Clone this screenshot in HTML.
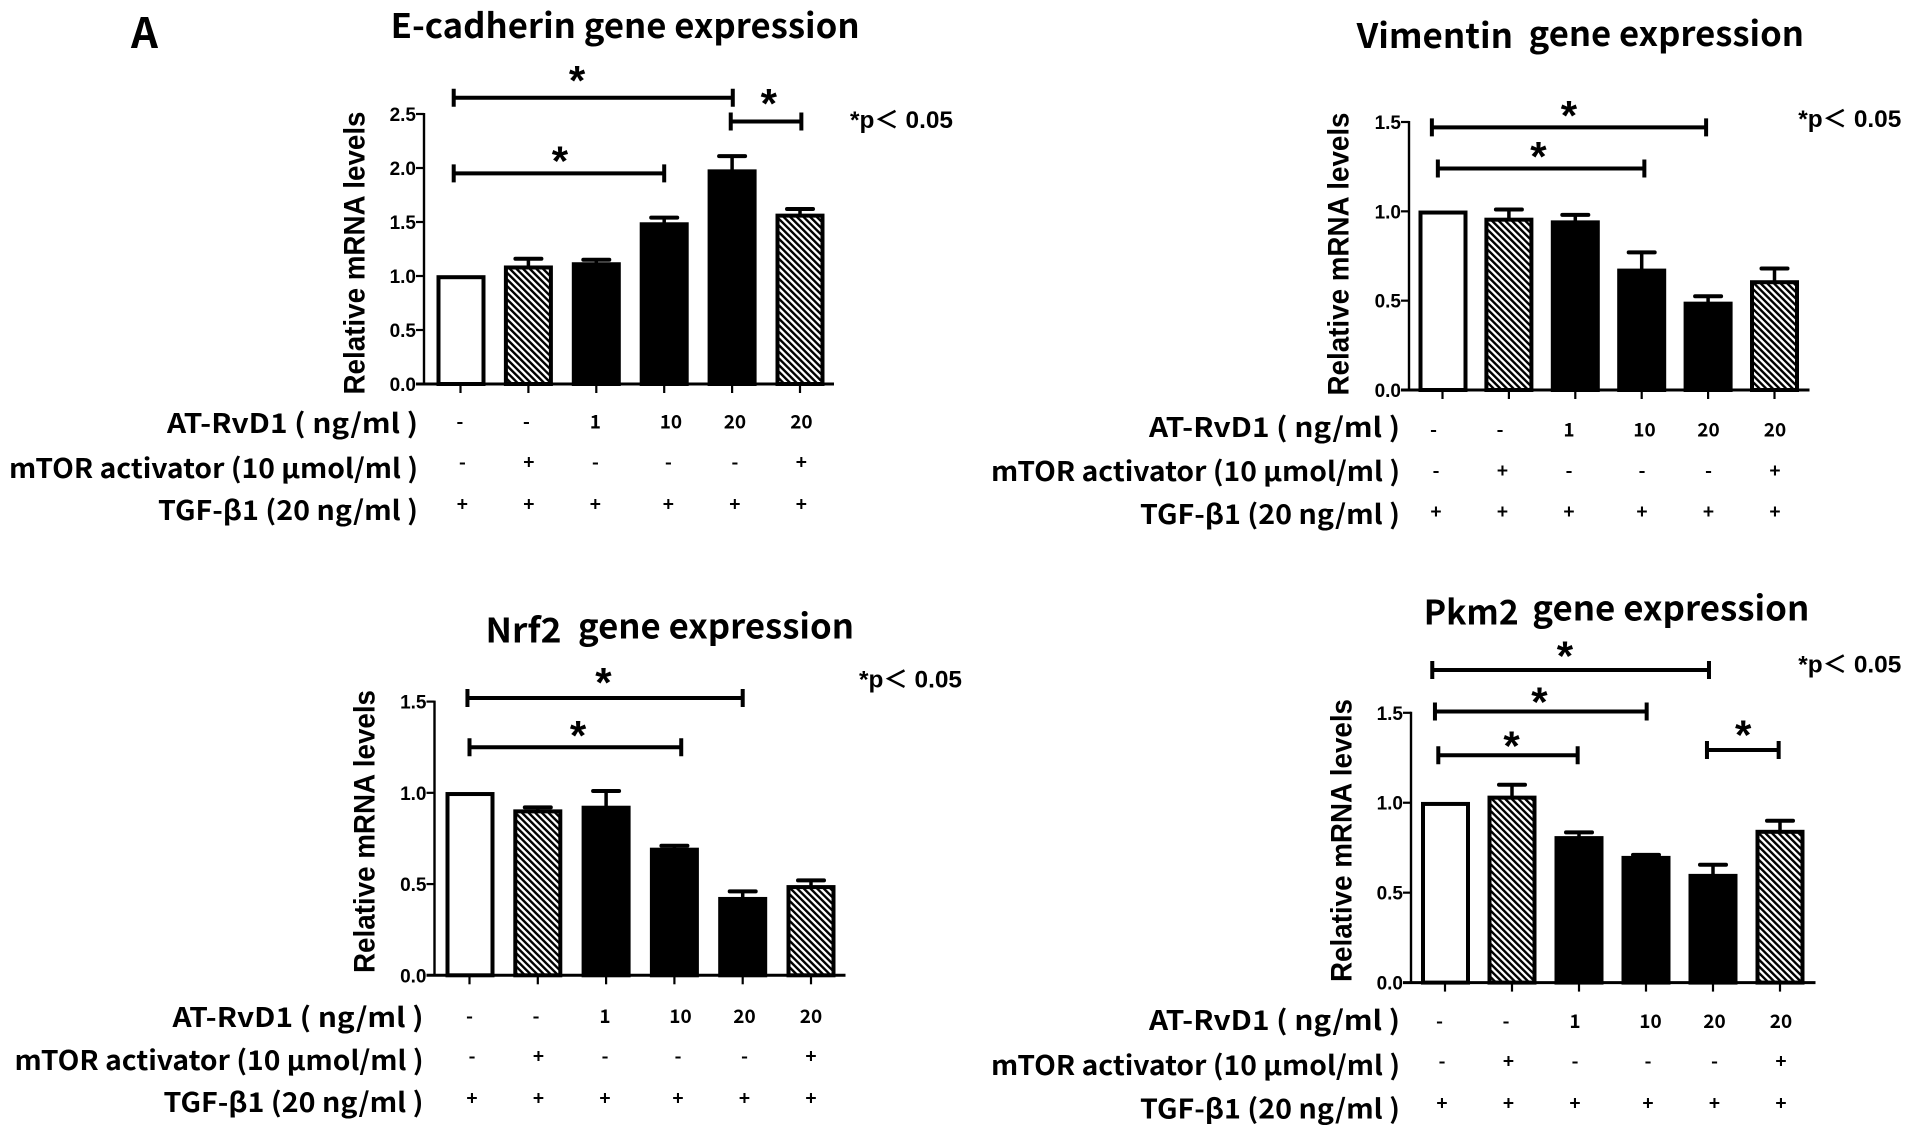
<!DOCTYPE html>
<html lang="en">
<head>
<meta charset="utf-8">
<title>Gene expression bar charts</title>
<style>
html,body{margin:0;padding:0;background:#fff;width:1913px;height:1139px;overflow:hidden}
svg{display:block}
.t{font-family:"Liberation Sans","Noto Sans CJK KR",sans-serif;font-weight:700;fill:#000}
.k{font-family:"Noto Sans CJK KR","Liberation Sans",sans-serif;font-weight:700;fill:#000}
</style>
</head>
<body>
<svg id="figure" xmlns="http://www.w3.org/2000/svg" width="1913" height="1139" viewBox="0 0 1913 1139">
  <defs>
    <pattern id="hatch" patternUnits="userSpaceOnUse" width="4.7" height="4.7" patternTransform="rotate(-45)">
      <rect width="4.7" height="4.7" fill="#fff"/>
      <rect width="2.4" height="4.7" fill="#000"/>
    </pattern>
  </defs>
  <text class="k" x="131" y="48" font-size="42">A</text>
</svg>
<script>
// Shared data
const categories = ['control', 'mTOR activator', 'AT-RvD1 1', 'AT-RvD1 10', 'AT-RvD1 20', 'AT-RvD1 20 + mTOR'];
const fillKinds = ['open', 'hatch', 'solid', 'solid', 'solid', 'hatch'];
const atRvd1Row = ['-', '-', '1', '10', '20', '20'];
const mtorRow = ['-', '+', '-', '-', '-', '+'];
const tgfRow = ['+', '+', '+', '+', '+', '+'];

const ecadherinMeans = [1.0, 1.09, 1.12, 1.49, 1.98, 1.57];
const ecadherinErrors = [0, 0.07, 0.03, 0.05, 0.13, 0.05];
const ecadherinTicks = ['0.0', '0.5', '1.0', '1.5', '2.0', '2.5'];
const ecadherinBrackets = [
  {from: -0.10, to: 4.01, value: 2.65, starCat: 1.716, starValue: 2.905},
  {from: 3.98, to: 5.02, value: 2.43, starCat: 4.54, starValue: 2.69},
  {from: -0.10, to: 3.0, value: 1.95, starCat: 1.465, starValue: 2.16}
];

const vimentinMeans = [1.0, 0.96, 0.945, 0.675, 0.49, 0.61];
const vimentinErrors = [0, 0.05, 0.035, 0.095, 0.035, 0.07];
const vimentinTicks = ['0.0', '0.5', '1.0', '1.5'];
const vimentinBrackets = [
  {from: -0.16, to: 3.97, value: 1.47, starCat: 1.905, starValue: 1.593},
  {from: -0.07, to: 3.04, value: 1.24, starCat: 1.444, starValue: 1.363}
];

const nrf2Means = [1.0, 0.905, 0.925, 0.695, 0.425, 0.49];
const nrf2Errors = [0, 0.015, 0.085, 0.015, 0.035, 0.03];
const nrf2Ticks = ['0.0', '0.5', '1.0', '1.5'];
const nrf2Brackets = [
  {from: -0.03, to: 4.0, value: 1.52, starCat: 1.96, starValue: 1.66},
  {from: 0.0, to: 3.1, value: 1.25, starCat: 1.59, starValue: 1.37}
];

const pkm2Means = [1.0, 1.035, 0.81, 0.70, 0.60, 0.845];
const pkm2Errors = [0, 0.065, 0.025, 0.01, 0.055, 0.055];
const pkm2Ticks = ['0.0', '0.5', '1.0', '1.5'];
const pkm2Brackets = [
  {from: -0.19, to: 3.94, value: 1.738, starCat: 1.79, starValue: 1.872},
  {from: -0.15, to: 3.01, value: 1.507, starCat: 1.41, starValue: 1.618},
  {from: -0.10, to: 1.98, value: 1.264, starCat: 0.994, starValue: 1.371},
  {from: 3.91, to: 4.98, value: 1.293, starCat: 4.45, starValue: 1.434}
];

// Layout (pixels) for each panel
const panels = [
  {id: 'e-cadherin', means: ecadherinMeans, errors: ecadherinErrors, ticks: ecadherinTicks, brackets: ecadherinBrackets,
   axisX: 424, axisEnd: 834, x0: 460.5, dx: 67.9, y0: 384, yTop: 114, yMax: 2.5,
   titleParts: [{text: 'E-cadherin gene expression', x: 390.6, w: 469, y: 38}],
   pX: 850, pY: 128, yTitleX: 355, yTitleY: 253,
   labelRight: 418, rowY: [424, 469, 511], cellY: [421.5, 462, 504], cellX0: 462.4},
  {id: 'vimentin', means: vimentinMeans, errors: vimentinErrors, ticks: vimentinTicks, brackets: vimentinBrackets,
   axisX: 1409, axisEnd: 1809.5, x0: 1442.5, dx: 66.4, y0: 390, yTop: 122, yMax: 1.5,
   titleParts: [{text: 'Vimentin', x: 1356.6, w: 156.4, y: 48}, {text: 'gene expression', x: 1528.7, w: 275.3, y: 46}],
   pX: 1798.3, pY: 127, yTitleX: 1339, yTitleY: 254,
   labelRight: 1400, rowY: [428, 472, 515], cellY: [429.5, 470.5, 511.5], cellX0: 1436},
  {id: 'nrf2', means: nrf2Means, errors: nrf2Errors, ticks: nrf2Ticks, brackets: nrf2Brackets,
   axisX: 434.5, axisEnd: 845.5, x0: 469.5, dx: 68.3, y0: 975.3, yTop: 701.6, yMax: 1.5,
   titleParts: [{text: 'Nrf2', x: 485.5, w: 76, y: 642.5}, {text: 'gene expression', x: 578, w: 276, y: 638.5}],
   pX: 859, pY: 687.6, yTitleX: 365, yTitleY: 831.5,
   labelRight: 423.5, rowY: [1018, 1061, 1103], cellY: [1016, 1056, 1098], cellX0: 472},
  {id: 'pkm2', means: pkm2Means, errors: pkm2Errors, ticks: pkm2Ticks, brackets: pkm2Brackets,
   axisX: 1411, axisEnd: 1815.5, x0: 1445, dx: 67, y0: 982.6, yTop: 712.8, yMax: 1.5,
   titleParts: [{text: 'Pkm2', x: 1423.7, w: 95, y: 624.6}, {text: 'gene expression', x: 1532.3, w: 277, y: 620.6}],
   pX: 1798.3, pY: 672.6, yTitleX: 1342, yTitleY: 840.5,
   labelRight: 1400, rowY: [1021, 1066, 1109.5], cellY: [1021, 1061, 1103], cellX0: 1442}
];
const rowLabels = ['AT-RvD1 ( ng/ml )', 'mTOR activator (10 \u03bcmol/ml )', 'TGF-\u03b21 (20 ng/ml )'];
const rowLabelWidths = [251, 409, 260];
const rowNames = ['at-rvd1', 'mtor-activator', 'tgf-beta1'];
const rowValues = [atRvd1Row, mtorRow, tgfRow];
const firstRowNudge = [-2.5, -2.5, 0, 2.5, 0, 0];
const cellPitch = 66.5;
const cellGapAfterThird = 6.5;
const barTopInset = 1.2;
const starFontSize = 42;

const NS = 'http://www.w3.org/2000/svg';
const root = document.getElementById('figure');

function make(tag, attrs, parent, text) {
  const node = document.createElementNS(NS, tag);
  for (const key in attrs) node.setAttribute(key, attrs[key]);
  if (text !== undefined) node.textContent = text;
  parent.appendChild(node);
  return node;
}

function drawPanel(p) {
  const xScale = c => p.x0 + p.dx * c;
  const yScale = v => p.y0 - (p.y0 - p.yTop) * v / p.yMax;
  const cellX = i => p.cellX0 + cellPitch * i + (i >= 3 ? cellGapAfterThird : 0);
  let el;

  const g = make('g', {}, root);
  
  

  p.titleParts.forEach(part => {
    el = make('text', {class: 'k', x: part.x, y: part.y, 'font-size': 34, textLength: part.w, lengthAdjust: 'spacingAndGlyphs'}, g, part.text);
    
    
  });

  el = make('text', {class: 't', x: p.pX, y: p.pY, 'font-size': 24, textLength: 103, lengthAdjust: 'spacingAndGlyphs'}, g, '*p\uff1c 0.05');
  
  

  el = make('text', {class: 't', 'font-size': 30, 'text-anchor': 'middle', textLength: 283, lengthAdjust: 'spacingAndGlyphs',
    transform: 'translate(' + p.yTitleX + ' ' + p.yTitleY + ') rotate(-90)', 'dominant-baseline': 'central'}, g, 'Relative mRNA levels');
  
  

  // Bars and error bars
  p.means.forEach((mean, i) => {
    const kind = fillKinds[i];
    const cx = xScale(i) + (i === 0 ? 0.5 : 0);
    const fill = kind === 'open' ? '#fff' : kind === 'hatch' ? 'url(#hatch)' : '#000';
    const err = p.errors[i];
    const top = yScale(mean) + barTopInset;
    if (err > 0) {
      el = make('line', {x1: cx, x2: cx, y1: top, y2: yScale(mean + err), stroke: '#000', 'stroke-width': 3.5}, g);
      
      
      el = make('line', {x1: cx - 13, x2: cx + 13, y1: yScale(mean + err), y2: yScale(mean + err), stroke: '#000', 'stroke-width': 4, 'stroke-linecap': 'round'}, g);
      
      
    }
    el = make('rect', {x: cx - 22.5, y: top, width: 45, height: yScale(0) - top, fill: fill, stroke: '#000', 'stroke-width': 4}, g);
    
    
  });

  // Axes
  el = make('line', {x1: p.axisX, x2: p.axisX, y1: p.yTop - 1, y2: p.y0 + 1, stroke: '#000', 'stroke-width': 2.4}, g);
  
  
  el = make('line', {x1: p.axisX - 8, x2: p.axisEnd, y1: p.y0, y2: p.y0, stroke: '#000', 'stroke-width': 3}, g);
  
  

  p.ticks.forEach(label => {
    const y = yScale(parseFloat(label));
    el = make('line', {x1: p.axisX - 8, x2: p.axisX, y1: y, y2: y, stroke: '#000', 'stroke-width': 2.2}, g);
    
    
    el = make('text', {class: 't', x: p.axisX - 8, y: y + 7, 'font-size': 19, 'text-anchor': 'end'}, g, label);
    
    
  });

  categories.forEach((name, i) => {
    el = make('line', {x1: xScale(i), x2: xScale(i), y1: p.y0, y2: p.y0 + 9, stroke: '#000', 'stroke-width': 2.2}, g);
    
    
  });

  // Significance brackets
  p.brackets.forEach(b => {
    const y = yScale(b.value);
    el = make('path', {d: 'M' + xScale(b.from) + ' ' + (y - 9) + 'V' + (y + 9) + 'M' + xScale(b.from) + ' ' + y + 'H' + xScale(b.to) + 'M' + xScale(b.to) + ' ' + (y - 9) + 'V' + (y + 9),
      fill: 'none', stroke: '#000', 'stroke-width': 4}, g);
    
    
    el = make('text', {class: 't', x: xScale(b.starCat), y: yScale(b.starValue) + 0.588 * starFontSize, 'font-size': starFontSize, 'text-anchor': 'middle'}, g, '*');
    
    
  });

  // Treatment table
  rowLabels.forEach((label, r) => {
    el = make('text', {class: 'k', x: p.labelRight, y: p.rowY[r] + 9, 'font-size': 27, 'text-anchor': 'end', textLength: rowLabelWidths[r], lengthAdjust: 'spacingAndGlyphs'}, g, label);
    
    
    rowValues[r].forEach((value, i) => {
      const nudge = r === 0 ? firstRowNudge[i] : 0;
      el = make('text', {class: 'k', x: cellX(i) + nudge, y: p.cellY[r] + 7, 'font-size': 19, 'text-anchor': 'middle'}, g, value);
      
      
    });
  });
}

panels.forEach(drawPanel);
</script>
</body>
</html>
